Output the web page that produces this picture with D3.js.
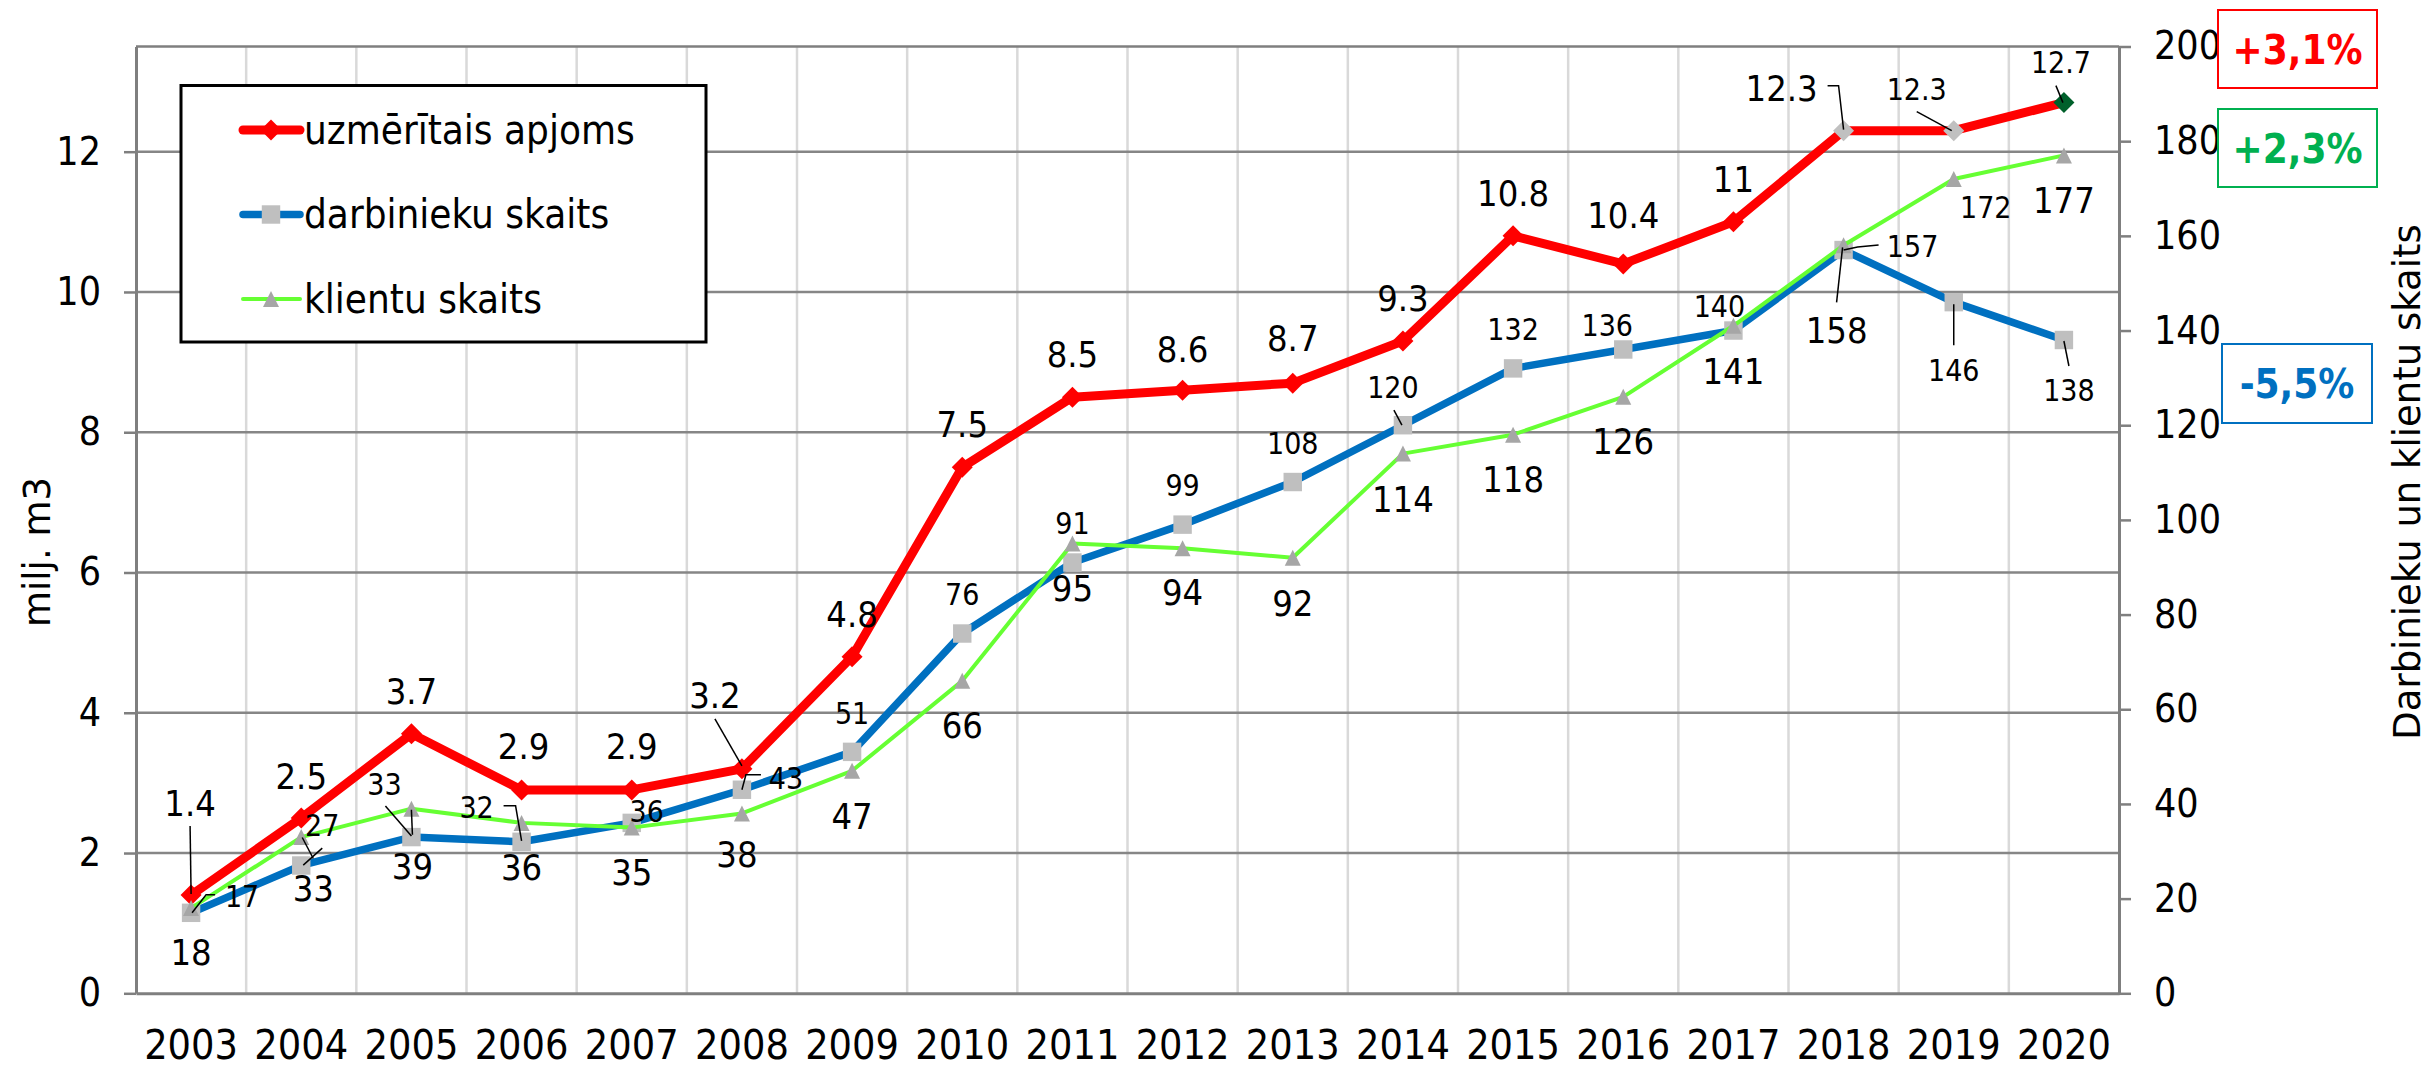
<!DOCTYPE html>
<meta charset="utf-8">
<style>

body {
  margin: 0;
  background: #fff;
}

svg {
  display: block;
}

text {
  font-family: "DejaVu Sans Condensed", "DejaVu Sans", sans-serif;
  font-stretch: condensed;
  fill: #000;
}

.axis text {
  font-size: 39px;
}

.x.axis text {
  font-size: 41px;
}

.axis .domain {
  stroke: #7f7f7f;
  stroke-width: 3;
}

.axis line {
  stroke: #7f7f7f;
  stroke-width: 2.5;
}

.title {
  font-family: "DejaVu Sans", Verdana, sans-serif;
  font-stretch: normal;
  font-size: 37px;
}

.legend text {
  font-size: 40px;
}

.change text {
  font-size: 40px;
  font-weight: bold;
}

</style>
<body>
<svg width="2430" height="1069"></svg>
<script src="https://d3js.org/d3.v7.min.js"></script>
<script>

// values
var years = [2003, 2004, 2005, 2006, 2007, 2008, 2009, 2010, 2011,
             2012, 2013, 2014, 2015, 2016, 2017, 2018, 2019, 2020];
var volume = [1.4, 2.5, 3.7, 2.9, 2.9, 3.2, 4.8, 7.5, 8.5,
              8.6, 8.7, 9.3, 10.8, 10.4, 11, 12.3, 12.3, 12.7];
var staff = [17, 27, 33, 32, 36, 43, 51, 76, 91,
             99, 108, 120, 132, 136, 140, 157, 146, 138];
var clients = [18, 33, 39, 36, 35, 38, 47, 66, 95,
               94, 92, 114, 118, 126, 141, 158, 172, 177];
var seriesNames = ["uzmērītais apjoms", "darbinieku skaits", "klientu skaits"];
var leftTicks = [0, 2, 4, 6, 8, 10, 12];
var rightTicks = [0, 20, 40, 60, 80, 100, 120, 140, 160, 180, 200];
var changeLabels = ["+3,1%", "+2,3%", "-5,5%"];
var leftTitle = "milj. m3";
var rightTitle = "Darbinieku un klientu skaits";

// label placement (offset of label centre from its point, px)
var volumeLabelPos = [[-1,-92],[0,-42],[0,-43],[2,-44],[0,-44],[-27,-74],[0,-43],[0,-43],[0,-43],
                      [0,-41],[0,-45],[0,-43],[0,-43],[0,-49],[0,-43],[-62,-43],[-37,-41],[-3,-40]];
var staffLabelPos = [[51,-17],[21,-40],[-27,-53],[-45,-35],[15,-12],[44,-12],[0,-39],[0,-39],[0,-39],
                     [0,-39],[0,-39],[-10,-38],[0,-39],[-16,-24],[-14,-24],[69,-4],[0,68],[5,50]];
var clientsLabelPos = [[0,44],[12,51],[1,57],[0,44],[0,44],[-5,41],[0,45],[0,44],[0,44],
                       [0,44],[0,45],[0,45],[0,44],[0,44],[0,45],[-7,85],[32,28],[0,45]];
var volumeSmall = [16, 17];
var staffSmall = d3.range(18);
var clientsSmall = [16];

// leader lines, relative to the point
var volumeLeaders = {0: [[-1,-69],[0,-1]], 5: [[-27,-50],[0,-3]], 15: [[-16,-45],[-5,-45],[0,-1]],
                     16: [[-37,-19],[-2,0]], 17: [[-8,-17],[-1,0]]};
var staffLeaders = {0: [[24,-18],[15,-18],[1,0]], 1: [[1,-28],[12,-7]], 2: [[-26,-31],[0,-1]],
                    3: [[-18,-36],[-6,-36],[0,-1]], 5: [[19,-15],[4,-15],[0,0]], 11: [[-9,-15],[-1,0]],
                    15: [[35,-5],[14,-3],[0,0]], 16: [[0,43],[0,2]], 17: [[5,26],[0,1]]};
var clientsLeaders = {1: [[21,11],[2,28]], 2: [[0,1],[1,26]], 15: [[-7,57],[-1,2]]};

var volumeMarkerFill = years.map(function(d, i) {
  return i === 17 ? "#00602b" : (i >= 15 ? "#c0c0c0" : "#ff0000");
});

var svg = d3.select("svg"),
    plot = {left: 136, right: 2119, top: 46.5, bottom: 993.3};

var x = d3.scaleBand().domain(years).range([plot.left, plot.right]),
    yL = d3.scaleLinear().domain([0, 13.5]).range([plot.bottom, plot.top]),
    yR = d3.scaleLinear().domain([0, 200]).range([plot.bottom, plot.top]);

function cx(i) { return x(years[i]) + x.bandwidth() / 2; }

// marker shapes
var diamondType = {draw: function(c, s) {
  var r = Math.sqrt(s) / 2;
  c.moveTo(0, -r); c.lineTo(r, 0); c.lineTo(0, r); c.lineTo(-r, 0); c.closePath();
}};
var triangleType = {draw: function(c, s) {
  var r = Math.sqrt(s) / 2;
  c.moveTo(0, -r); c.lineTo(r, r); c.lineTo(-r, r); c.closePath();
}};

var series = [
  {name: seriesNames[0], values: volume, y: yL, color: "#ff0000", width: 9,
   symbol: d3.symbol(diamondType, 441), fill: volumeMarkerFill,
   pos: volumeLabelPos, small: volumeSmall, leaders: volumeLeaders},
  {name: seriesNames[1], values: staff, y: yR, color: "#0070c0", width: 7.5,
   symbol: d3.symbol(d3.symbolSquare, 340), fill: years.map(function() { return "#bfbfbf"; }),
   pos: staffLabelPos, small: staffSmall, leaders: staffLeaders},
  {name: seriesNames[2], values: clients, y: yR, color: "#66ff33", width: 4,
   symbol: d3.symbol(triangleType, 256), fill: years.map(function() { return "#a6a6a6"; }),
   pos: clientsLabelPos, small: clientsSmall, leaders: clientsLeaders}
];

// grid
svg.append("g").selectAll("line")
  .data(years.slice(1))
  .join("line")
    .attr("x1", function(d) { return x(d); })
    .attr("x2", function(d) { return x(d); })
    .attr("y1", plot.top)
    .attr("y2", plot.bottom)
    .attr("stroke", "#d9d9d9")
    .attr("stroke-width", 2.5);

svg.append("g").selectAll("line")
  .data(leftTicks.filter(function(d) { return d > 0; }))
  .join("line")
    .attr("x1", plot.left)
    .attr("x2", plot.right)
    .attr("y1", function(d) { return yL(d); })
    .attr("y2", function(d) { return yL(d); })
    .attr("stroke", "#868686")
    .attr("stroke-width", 2.5);

svg.append("line")
    .attr("x1", plot.left).attr("x2", plot.right)
    .attr("y1", plot.top).attr("y2", plot.top)
    .attr("stroke", "#7f7f7f").attr("stroke-width", 2.5);

// axes
svg.append("g")
    .attr("class", "x axis")
    .attr("transform", "translate(0," + plot.bottom + ")")
    .call(d3.axisBottom(x).tickSize(0).tickPadding(37));

svg.append("g")
    .attr("class", "y axis")
    .attr("transform", "translate(" + plot.left + ",0)")
    .call(d3.axisLeft(yL).tickValues(leftTicks).tickSize(12).tickSizeOuter(0).tickPadding(23));

svg.append("g")
    .attr("class", "y axis")
    .attr("transform", "translate(" + plot.right + ",0)")
    .call(d3.axisRight(yR).tickValues(rightTicks).tickSize(12).tickSizeOuter(0).tickPadding(23));

svg.append("text")
    .attr("class", "title")
    .attr("transform", "translate(50,552) rotate(-90)")
    .attr("text-anchor", "middle")
    .text(leftTitle);

svg.append("text")
    .attr("class", "title")
    .attr("transform", "translate(2420,482) rotate(-90)")
    .attr("text-anchor", "middle")
    .text(rightTitle);

// series
series.forEach(function(s) {
  var g = svg.append("g");

  g.append("path")
      .datum(s.values)
      .attr("fill", "none")
      .attr("stroke", s.color)
      .attr("stroke-width", s.width)
      .attr("stroke-linejoin", "round")
      .attr("d", d3.line()
        .x(function(d, i) { return cx(i); })
        .y(function(d) { return s.y(d); }));

  g.selectAll(".marker")
    .data(s.values)
    .join("path")
      .attr("class", "marker")
      .attr("transform", function(d, i) { return "translate(" + cx(i) + "," + s.y(d) + ")"; })
      .attr("fill", function(d, i) { return s.fill[i]; })
      .attr("d", s.symbol);
});

// leader lines and value labels
series.forEach(function(s) {
  var g = svg.append("g");

  Object.keys(s.leaders).forEach(function(k) {
    var i = +k, px = cx(i), py = s.y(s.values[i]);
    g.append("path")
        .attr("fill", "none")
        .attr("stroke", "#000")
        .attr("stroke-width", 1.5)
        .attr("d", d3.line()(s.leaders[k].map(function(p) { return [px + p[0], py + p[1]]; })));
  });

  g.selectAll("text")
    .data(s.values)
    .join("text")
      .attr("text-anchor", "middle")
      .attr("font-size", function(d, i) { return s.small.indexOf(i) >= 0 ? 30 : 36; })
      .attr("x", function(d, i) { return cx(i) + s.pos[i][0]; })
      .attr("y", function(d, i) {
        var fs = s.small.indexOf(i) >= 0 ? 30 : 36;
        return s.y(d) + s.pos[i][1] + 0.36 * fs;
      })
      .text(function(d) { return d; });
});

// legend
var legend = svg.append("g").attr("class", "legend");

legend.append("rect")
    .attr("x", 181).attr("y", 85.5)
    .attr("width", 525).attr("height", 256.5)
    .attr("fill", "#fff")
    .attr("stroke", "#000")
    .attr("stroke-width", 3);

series.forEach(function(s, i) {
  var ly = 130 + i * 84.5;
  legend.append("line")
      .attr("x1", 243).attr("x2", 300)
      .attr("y1", ly).attr("y2", ly)
      .attr("stroke", s.color)
      .attr("stroke-width", s.width)
      .attr("stroke-linecap", "round");
  legend.append("path")
      .attr("transform", "translate(271," + ly + ")")
      .attr("fill", i === 0 ? "#ff0000" : s.fill[0])
      .attr("d", s.symbol());
  legend.append("text")
      .attr("x", 304)
      .attr("y", ly + 13.5)
      .text(s.name);
});

// change boxes
var changeBoxes = [
  {x: 2218, y: 10, w: 159, h: 78, color: "#ff0000"},
  {x: 2218, y: 109, w: 159, h: 78, color: "#00b050"},
  {x: 2222, y: 344, w: 150, h: 79, color: "#0070c0"}
];

var change = svg.append("g").attr("class", "change");

changeBoxes.forEach(function(b, i) {
  change.append("rect")
      .attr("x", b.x).attr("y", b.y)
      .attr("width", b.w).attr("height", b.h)
      .attr("fill", "#fff")
      .attr("stroke", b.color)
      .attr("stroke-width", 2);
  change.append("text")
      .attr("x", b.x + b.w / 2)
      .attr("y", b.y + 53.5)
      .attr("text-anchor", "middle")
      .style("fill", b.color)
      .text(changeLabels[i]);
});

</script>
</body>
